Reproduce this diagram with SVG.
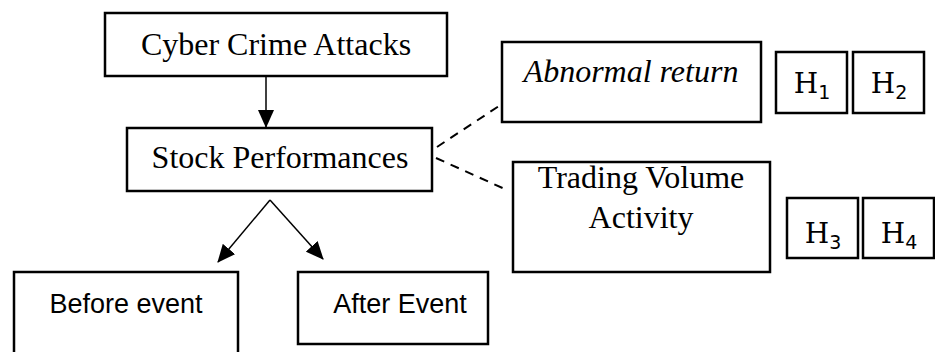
<svg xmlns="http://www.w3.org/2000/svg" width="935" height="352" viewBox="0 0 935 352">
<style>
.box{fill:#fff;stroke:#000;stroke-width:2.5}
.serif{font-family:"Liberation Serif","Times New Roman",serif;font-size:32px;fill:#000}
.sans{font-family:"Liberation Sans",Arial,sans-serif;font-size:27px;fill:#000}
.hyp{font-family:"DejaVu Serif","Liberation Serif",serif;font-size:28px;fill:#000}
.sub{font-family:"DejaVu Sans","Liberation Sans",sans-serif;font-size:19px}
.solid{stroke:#000;stroke-width:1.5;fill:none}
.dash{stroke:#000;stroke-width:2;stroke-dasharray:9,7;fill:none}
</style>
<defs>
<marker id="ah" markerUnits="userSpaceOnUse" markerWidth="18" markerHeight="16" refX="17" refY="8" orient="auto">
<path d="M0,0 L18,8 L0,16 Z" fill="#000"/>
</marker>
</defs>
<g id="connectors">
<line class="solid" x1="266" y1="77" x2="266" y2="127" marker-end="url(#ah)"/>
<line class="solid" x1="270" y1="200" x2="218" y2="262" marker-end="url(#ah)"/>
<line class="solid" x1="270" y1="200" x2="323" y2="259" marker-end="url(#ah)"/>
<line class="dash" x1="437" y1="147" x2="502" y2="104"/>
<line class="dash" x1="436" y1="158" x2="507" y2="190"/>
</g>
<g id="cyber">
<rect class="box" x="105" y="13" width="342" height="63"/>
<text class="serif" x="276" y="55" text-anchor="middle">Cyber Crime Attacks</text>
</g>
<g id="stock">
<rect class="box" x="127" y="128" width="305" height="63"/>
<text class="serif" x="280" y="168" text-anchor="middle">Stock Performances</text>
</g>
<g id="abnormal">
<rect class="box" x="502" y="42" width="259" height="80"/>
<text class="serif" x="631" y="82" text-anchor="middle" font-style="italic">Abnormal return</text>
</g>
<g id="h1">
<rect class="box" x="776" y="52" width="71" height="61"/>
<text class="hyp" x="812" y="93" text-anchor="middle">H<tspan class="sub" dy="6">1</tspan></text>
</g>
<g id="h2">
<rect class="box" x="853" y="52" width="71" height="61"/>
<text class="hyp" x="889" y="93" text-anchor="middle">H<tspan class="sub" dy="6">2</tspan></text>
</g>
<g id="trading">
<rect class="box" x="513" y="162" width="257" height="110"/>
<text class="serif" x="641" y="188" text-anchor="middle">Trading Volume</text>
<text class="serif" x="641" y="228" text-anchor="middle">Activity</text>
</g>
<g id="h3">
<rect class="box" x="787" y="198" width="71" height="60"/>
<text class="hyp" x="823" y="243" text-anchor="middle">H<tspan class="sub" dy="6">3</tspan></text>
</g>
<g id="h4">
<rect class="box" x="863" y="198" width="71" height="60"/>
<text class="hyp" x="899" y="243" text-anchor="middle">H<tspan class="sub" dy="6">4</tspan></text>
</g>
<g id="before">
<rect class="box" x="14" y="272" width="224" height="90"/>
<text class="sans" x="126" y="313" text-anchor="middle">Before event</text>
</g>
<g id="after">
<rect class="box" x="298" y="272" width="190" height="72"/>
<text class="sans" x="400" y="313" text-anchor="middle">After Event</text>
</g>
</svg>
